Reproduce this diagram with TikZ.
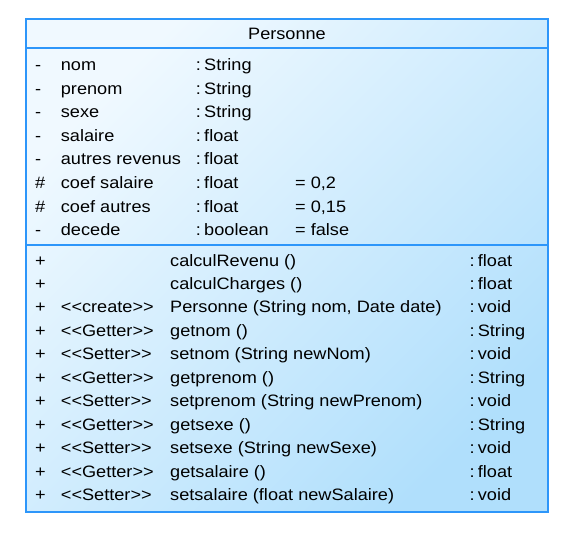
\documentclass[tikz,border=0pt]{standalone}
\usepackage{fontspec}
\setmainfont{Liberation Sans}[FakeStretch=1.1]
\definecolor{umlBorder}{RGB}{45,150,250}
\definecolor{umlLight}{RGB}{240,249,255}
\definecolor{umlDark}{RGB}{176,223,252}

\begin{document}
\begin{tikzpicture}[x=1pt,y=-1pt]
        \tikzstyle{classbox}=[draw=umlBorder,line width=1.5pt,top color=umlLight,bottom color=umlDark,shading angle=45,minimum width=522pt,minimum height=493pt,inner sep=0pt]
        \tikzstyle{entry}=[anchor=base west,inner sep=0pt,font=\fontsize{16.5}{20}\selectfont]
        \tikzstyle{divider}=[draw=umlBorder,line width=1.5pt]
        \useasboundingbox (0,0) rectangle (565,535);
       \begin{scope}
         \node [classbox] (personne) at (287,265.5) {};
         \coordinate (sep1) at (26,48);
         \coordinate (sep2) at (26,245);
         \path[divider] (personne.west |- sep1) -- (personne.east |- sep1);
         \path[divider] (personne.west |- sep2) -- (personne.east |- sep2);
         \node [entry,anchor=base] (titre) at (287,39.3) {Personne};

         % attributs
         \foreach \vis/\nom/\type/\val [count=\i] in {-/nom/String/, -/prenom/String/, -/sexe/String/, -/salaire/float/, -/autres revenus/float/, \#/coef salaire/float/{= 0,2}, \#/coef autres/float/{= 0,15}, -/decede/boolean/{= false}}
         {
           \node [entry] (vis\i) at (35,{47.13+23.57*\i}) {\vis};
           \node [entry] (nom\i) at (60.7,{47.13+23.57*\i}) {\nom};
           \node [entry] (type\i) at (195.7,{47.13+23.57*\i}) {:\kern0.2em\type};
           \node [entry] (val\i) at (295,{47.13+23.57*\i}) {\val};
         }

         % operations
         \foreach \meth/\ret [count=\i] in {calculRevenu ()/float, calculCharges ()/float, {Personne (String nom, Date date)}/void, getnom ()/String, setnom (String newNom)/void, getprenom ()/String, setprenom (String newPrenom)/void, getsexe ()/String, setsexe (String newSexe)/void, getsalaire ()/float, setsalaire (float newSalaire)/void}
         {
           \node [entry] (pub\i) at (35,{242.53+23.47*\i}) {+};
           \node [entry] (meth\i) at (170,{242.53+23.47*\i}) {\meth};
           \node [entry] (ret\i) at (469.3,{242.53+23.47*\i}) {:\kern0.2em\ret};
         }
         \foreach \ster [count=\i from 3] in {create, Getter, Setter, Getter, Setter, Getter, Setter, Getter, Setter}
         {
           \node [entry] (ster\i) at (60.7,{242.53+23.47*\i}) {<{}<\ster>{}>};
         }
        \end{scope}
      \end{tikzpicture}
\end{document}
